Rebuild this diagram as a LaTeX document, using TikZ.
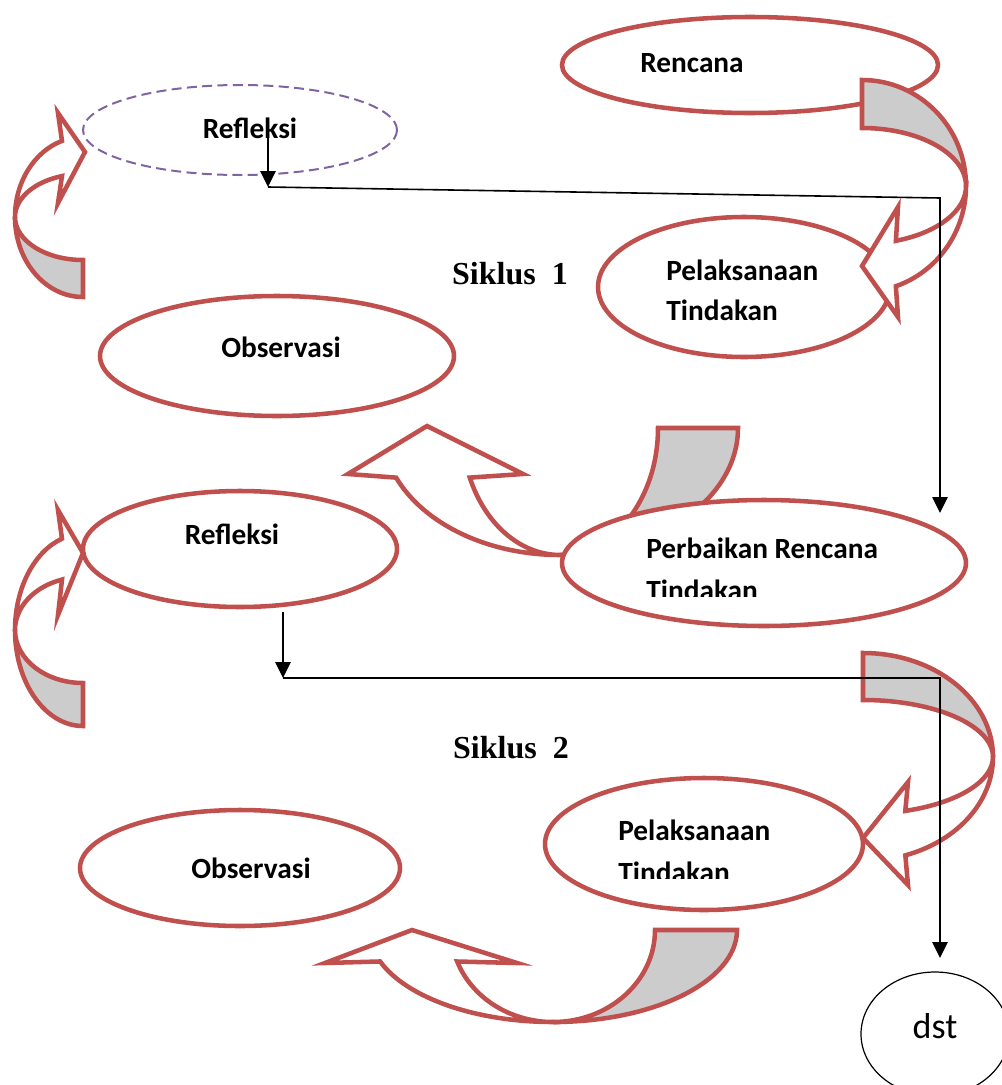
\documentclass[tikz,border=0pt]{standalone}
\usepackage{fontspec}
\newfontfamily\calfont{Carlito}
\newfontfamily\serfont{Liberation Serif}
\usepackage{tikz}
\usetikzlibrary{arrows.meta}

\begin{document}
\begin{tikzpicture}[x=0.75pt,y=0.75pt,yscale=-1,xscale=1,
  ell/.style={draw={rgb, 255:red, 192; green, 80; blue, 77 }, line width=3.4pt, fill=white},
  dashell/.style={draw={rgb, 255:red, 128; green, 100; blue, 162 }, line width=1.5pt, dash pattern={on 7.5pt off 4pt}},
  bandback/.style={draw={rgb, 255:red, 192; green, 80; blue, 77 }, line width=3.4pt, line join=miter, fill={rgb, 255:red, 204; green, 204; blue, 204 }},
  bandfront/.style={draw={rgb, 255:red, 192; green, 80; blue, 77 }, line width=3.4pt, line join=miter, fill=white},
  conn/.style={line width=1.2pt, -{Triangle[length=12pt,width=11.5pt]}},
  lbl/.style={inner sep=0.75pt, font=\calfont\bfseries\fontsize{22}{26}\selectfont},
  sik/.style={inner sep=0.75pt, font=\serfont\bfseries\fontsize{24}{28}\selectfont}
]
\useasboundingbox (0,0) rectangle (1002,1085);

%Shape: Ellipse
\draw [ell] (750,65) ellipse (188 and 48);
%Shape: Ellipse
\draw [dashell] (240,130) ellipse (157 and 45);
%Shape: Ellipse
\draw [ell] (744,287) ellipse (146 and 70);
%Shape: Ellipse
\draw [ell] (277,356) ellipse (177 and 60);
%Shape: Ellipse
\draw [ell] (240,549) ellipse (157 and 58);
%Shape: Ellipse
\draw [ell] (704,844) ellipse (159 and 66);
%Shape: Ellipse
\draw [ell] (240,868) ellipse (160 and 58);
%Shape: Ellipse
\draw [line width=0.9pt] (935,1034) ellipse (74 and 62);

%Curve Lines (Rencana to Pelaksanaan)
\draw [bandback] (862,80) arc [start angle=-90, end angle=0, x radius=104, y radius=106] arc [start angle=0, end angle=-90, x radius=104, y radius=58] -- cycle ;
\draw [bandfront] (966,186) arc [start angle=0, end angle=71, x radius=104, y radius=106] -- (898,317) -- (862,266) -- (898,207) -- (895.9,240.8) arc [start angle=71, end angle=0, x radius=104, y radius=58] -- cycle ;
%Curve Lines (to Refleksi, top)
\draw [bandback] (83,297) arc [start angle=90, end angle=180, x radius=68, y radius=80] arc [start angle=180, end angle=90, x radius=68, y radius=43] -- cycle ;
\draw [bandfront] (15,217) arc [start angle=180, end angle=252, x radius=68, y radius=80] -- (58,113) -- (85,152) -- (58,203) -- (62,176.1) arc [start angle=252, end angle=180, x radius=68, y radius=43] -- cycle ;
%Curve Lines (to Refleksi, middle)
\draw [bandback] (83,726) arc [start angle=90, end angle=180, x radius=68, y radius=96] arc [start angle=180, end angle=90, x radius=68, y radius=53] -- cycle ;
\draw [bandfront] (15,630) arc [start angle=180, end angle=252, x radius=68, y radius=96] -- (58,510) -- (83,553) -- (58,615) -- (62,579.6) arc [start angle=252, end angle=180, x radius=68, y radius=53] -- cycle ;
%Curve Lines (Perbaikan to Observasi)
\draw [bandback] (738,428) arc [start angle=0, end angle=90, x radius=178, y radius=127] arc [start angle=90, end angle=0, x radius=98, y radius=127] -- cycle ;
\draw [bandfront] (560,555) arc [start angle=90, end angle=157, x radius=178, y radius=127] -- (348,474) -- (427,426) -- (523,474) -- (469.8,477.6) arc [start angle=157, end angle=90, x radius=98, y radius=127] -- cycle ;
%Curve Lines (to Pelaksanaan, second)
\draw [bandback] (863,653) arc [start angle=-90, end angle=0, x radius=130, y radius=104] arc [start angle=0, end angle=-90, x radius=130, y radius=57] -- cycle ;
\draw [bandfront] (993,757) arc [start angle=0, end angle=71, x radius=130, y radius=104] -- (908,885) -- (863,838) -- (908,782) -- (905.3,810.9) arc [start angle=71, end angle=0, x radius=130, y radius=57] -- cycle ;
%Curve Lines (Pelaksanaan to Observasi, second)
\draw [bandback] (737,930) arc [start angle=0, end angle=90, x radius=184, y radius=92] arc [start angle=90, end angle=0, x radius=102, y radius=92] -- cycle ;
\draw [bandfront] (553,1022) arc [start angle=90, end angle=160, x radius=184, y radius=92] -- (325,963) -- (412,930) -- (517,963) -- (457.2,961.5) arc [start angle=160, end angle=90, x radius=102, y radius=92] -- cycle ;

%Shape: Ellipse
\draw [ell] (764,563) ellipse (202 and 63);

% Text Node
\draw (692,63) node [lbl] (ren) {Rencana};
% Text Node
\draw (250,128) node [lbl] (ref1) {Refleksi};
% Text Node
\draw (665,270) node [anchor=west][lbl] (pel1a) {Pelaksanaan};
% Text Node
\draw (665,310) node [anchor=west][lbl] (pel1b) {Tindakan};
% Text Node
\draw (510,274) node [sik] (sik1) {Siklus\ \ 1};
% Text Node
\draw (281,347) node [lbl] (obs1) {Observasi};
% Text Node
\draw (232,534) node [lbl] (ref2) {Refleksi};
% Text Node
\draw (645,548) node [anchor=west][lbl] (per1) {Perbaikan Rencana};
\begin{scope}
\clip (560,500) rectangle (966,596);
% Text Node
\draw (645,590) node [anchor=west][lbl] (per2) {Tindakan};
\end{scope}
% Text Node
\draw (511,748) node [sik] (sik2) {Siklus\ \ 2};
% Text Node
\draw (617,830) node [anchor=west][lbl] (pel2a) {Pelaksanaan};
\begin{scope}
\clip (545,778) rectangle (863,878);
% Text Node
\draw (617,872) node [anchor=west][lbl] (pel2b) {Tindakan};
\end{scope}
% Text Node
\draw (251,868) node [lbl] (obs2) {Observasi};
% Text Node
\draw (935,1026) node [inner sep=0.75pt, font=\calfont\fontsize{27}{32}\selectfont] (dst) {dst};

%Straight Lines
\coordinate (ra) at (268,132);
\coordinate (rb) at (268,187);
\coordinate (rc) at (940,198);
\coordinate (rd) at (940,513);
\draw [conn] (ra) -- (rb);
\draw [conn] (rb) -- (rc) -- (rd);
%Straight Lines
\coordinate (sa) at (283,612);
\coordinate (sb) at (283,678);
\coordinate (sc) at (940,678);
\coordinate (sd) at (940,958);
\draw [conn] (sa) -- (sb);
\draw [conn] (sb) -- (sc) -- (sd);

\end{tikzpicture}
\end{document}
